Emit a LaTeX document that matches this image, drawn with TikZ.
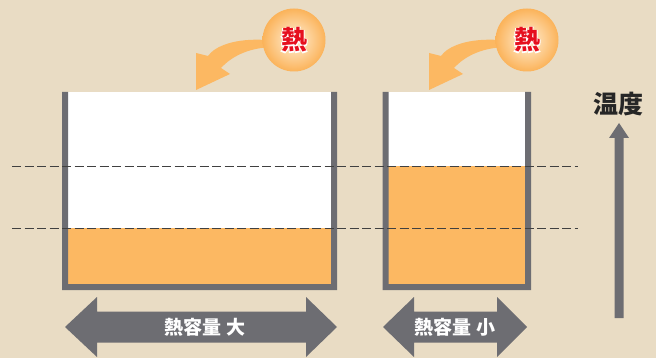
\documentclass[tikz,border=0pt]{standalone}
\usepackage{fontspec}
\newfontfamily\jp{Noto Sans CJK JP}
\newfontfamily\jpol{Noto Sans CJK JP}[UprightFont=* Bold, FakeBold=8]
\definecolor{bg}{HTML}{E9DCC4}
\definecolor{wall}{HTML}{6D6D72}
\definecolor{liq}{HTML}{FCB862}
\definecolor{heatred}{HTML}{E60F1E}
\definecolor{circin}{HTML}{FFF0D8}
\definecolor{circout}{HTML}{FBB35A}
\tikzset{
  wallline/.style={fill=wall},
  level/.style={draw=black!75, line width=0.9pt, dash pattern=on 9pt off 3.5pt},
  dblarrow/.style={fill=wall},
  heatarrow/.style={fill=liq},
  heatcirc/.style={circle, minimum size=63pt, inner sep=0pt, inner color=circin, outer color=circout},
  arrowlabel/.style={font=\jp\bfseries\fontsize{19}{19}\selectfont, text=white},
  heatglow/.style={font=\jpol\fontsize{26}{26}\selectfont, text=white},
  heattext/.style={font=\jp\bfseries\fontsize{26}{26}\selectfont, text=heatred},
}
\begin{document}
\begin{tikzpicture}[x=1pt,y=-1pt]
\fill[bg] (0,0) rectangle (656,358);
\useasboundingbox (0,0) rectangle (656,358);
% containers
\fill[white] (68,92) rectangle (331,284);
\fill[liq] (68,228) rectangle (331,284);
\fill[white] (388,92) rectangle (525,284);
\fill[liq] (388,166.5) rectangle (525,284);
\fill[wallline] (62,92) -- (68,92) -- (68,284) -- (331,284) -- (331,92) -- (337,92) -- (337,290) -- (62,290) -- cycle;
\fill[wallline] (382.5,92) -- (388.5,92) -- (388.5,284) -- (525,284) -- (525,92) -- (531,92) -- (531,290) -- (382.5,290) -- cycle;
% level lines
\coordinate (l1a) at (12,166.5); \coordinate (l1b) at (578,166.5);
\coordinate (l2a) at (12,228.3); \coordinate (l2b) at (578,228.3);
\draw[level] (l1a) -- (l1b);
\draw[level] (l2a) -- (l2b);
% heat arrows
\foreach \ox in {0,233}{
  \begin{scope}[xshift=\ox]
  \fill[heatarrow] (266,40) .. controls (235,38) and (215,46) .. (208,56)
     -- (196,53) -- (196,90) -- (230,74) -- (221,68)
     .. controls (232,56) and (248,49) .. (266,47.5) -- cycle;
  \end{scope}
}
\node[heatcirc] (c1) at (294,40) {};
\node[heatcirc] (c2) at (527,40) {};
\node[heatglow] (g1) at (c1.center) {熱};
\node[heattext] (h1) at (c1.center) {熱};
\node[heatglow] (g2) at (c2.center) {熱};
\node[heattext] (h2) at (c2.center) {熱};
% double arrows
\fill[dblarrow] (65,327) -- (97,297) -- (97,311.5) -- (306,311.5) -- (306,297) -- (337,327) -- (306,357) -- (306,342.5) -- (97,342.5) -- (97,357) -- cycle;
\node[arrowlabel] (big) at (205,327) {熱容量 大};
\fill[dblarrow] (383,327) -- (414,297) -- (414,311.5) -- (497,311.5) -- (497,297) -- (527,327) -- (497,357) -- (497,342.5) -- (414,342.5) -- (414,357) -- cycle;
\node[arrowlabel] (small) at (455,327) {熱容量 小};
% temperature arrow
\fill[dblarrow] (614.5,318) -- (614.5,138) -- (609,138) -- (619,123) -- (629,138) -- (623.5,138) -- (623.5,318) -- cycle;
\node[font=\jp\bfseries\fontsize{25}{25}\selectfont, text=black!85] (temp) at (618,104) {温度};
\end{tikzpicture}
\end{document}
